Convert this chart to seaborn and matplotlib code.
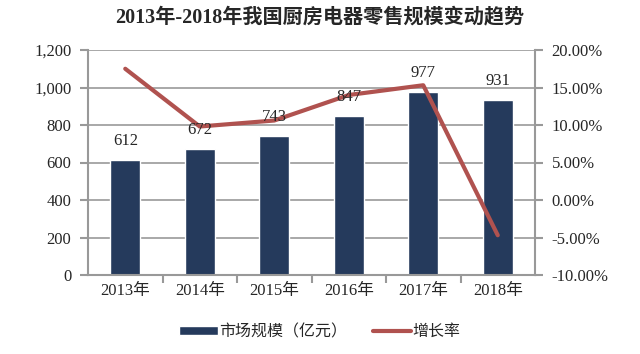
import seaborn as sns
import matplotlib.pyplot as plt
import pandas as pd
from matplotlib.ticker import FuncFormatter, FixedLocator
from matplotlib.lines import Line2D
from matplotlib.patches import Patch

sns.set_theme(style="white")
plt.rcParams['font.family'] = ['Liberation Serif', 'Noto Sans CJK SC']

# data
years = ['2013年', '2014年', '2015年', '2016年', '2017年', '2018年']
market = [612, 672, 743, 847, 977, 931]
growth = [17.5, 9.8, 10.6, 14.0, 15.3, -4.7]

df = pd.DataFrame({'year': years, 'market': market, 'growth': growth})

bar_color = '#253a5c'
line_color = '#b0524f'
grey = '#999999'

fig = plt.figure(figsize=(6.4, 3.54), dpi=100)
ax = fig.add_axes([88/640, 1-275/354, (535-88)/640, 225/354])

sns.barplot(data=df, x='year', y='market', color=bar_color, width=0.4,
            saturation=1, ax=ax)

ax.set_ylim(0, 1200)
ax.set_yticks(range(0, 1201, 200))
ax.yaxis.set_major_formatter(FuncFormatter(lambda v, p: f'{int(v):,}'))
ax.set_xlim(-0.5, 5.5)
ax.set_xlabel('')
ax.set_ylabel('')
ax.grid(axis='y', color=grey, linewidth=1.2)
ax.set_axisbelow(True)
ax.spines['top'].set_visible(False)
for s in ['left', 'bottom', 'right']:
    ax.spines[s].set_color(grey)
    ax.spines[s].set_linewidth(1.5)
ax.tick_params(axis='y', direction='out', length=6, width=1.5, color=grey,
               labelsize=12, left=True, pad=6)
ax.tick_params(axis='x', length=0, labelsize=12, pad=6)
# small ticks between categories on the x axis
ax.xaxis.set_minor_locator(FixedLocator([0.5, 1.5, 2.5, 3.5, 4.5]))
ax.tick_params(axis='x', which='minor', direction='out', length=6,
               width=1.5, color=grey, bottom=True)

ax2 = ax.twinx()
sns.lineplot(x=list(range(len(years))), y=df['growth'], color=line_color,
             linewidth=3, ax=ax2)
ax2.set_ylim(-10, 20)
ax2.set_yticks(range(-10, 21, 5))
ax2.yaxis.set_major_formatter(FuncFormatter(lambda v, p: f'{v:.2f}%'))
ax2.set_ylabel('')
for s in ax2.spines.values():
    s.set_visible(False)
ax2.tick_params(axis='y', direction='out', length=6, width=1.5, color=grey,
                labelsize=12, right=True, pad=6)
ax2.grid(False)

# value labels above bars, drawn over the line
for i, v in enumerate(market):
    ax2.annotate(f'{v}', xy=(i, v), xycoords=ax.transData,
                 xytext=(0, 8), textcoords='offset points',
                 ha='center', va='bottom', fontsize=12, zorder=10)

fig.suptitle('2013年-2018年我国厨房电器零售规模变动趋势', fontweight='bold',
             fontsize=14.5, x=0.5, y=0.98)

handles = [Patch(facecolor=bar_color), Line2D([0], [0], color=line_color, linewidth=3)]
labels = ['市场规模（亿元）', '增长率']
fig.legend(handles=handles, labels=labels, loc='center', ncol=2,
           bbox_to_anchor=(0.5, 1-332/354), frameon=False, fontsize=11.5,
           handlelength=2.4, handleheight=0.5, columnspacing=1.6, handletextpad=0.1)

fig.savefig('out.png', dpi=100)
